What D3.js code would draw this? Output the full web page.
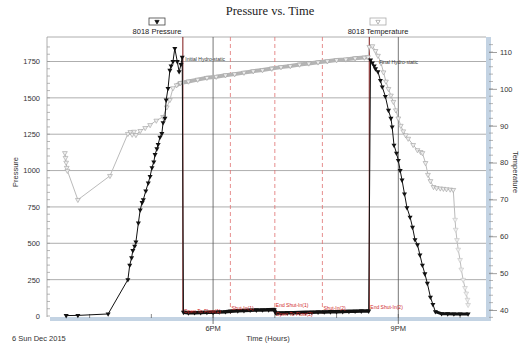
<!DOCTYPE html>
<html>
<head>
<meta charset="utf-8">
<script src="https://cdn.jsdelivr.net/npm/d3@7"></script>
<style>
  body { margin: 0; background: #fff; }
  svg { display: block; font-family: "Liberation Sans", Arial, sans-serif; }
</style>
</head>
<body>
<div id="chart"></div>
<script>
// ---- data (time in hours of the day, 6 Dec 2015) ----
const pressureTime = [15.62, 15.81, 16.30, 16.62, 16.65, 16.68, 16.70, 16.73, 16.75, 16.79, 16.82, 16.85, 16.87,
  16.91, 16.95, 16.98, 17.01, 17.04, 17.06, 17.09, 17.11, 17.14, 17.17, 17.19, 17.22, 17.24, 17.27, 17.30,
  17.32, 17.35, 17.38, 17.42, 17.45, 17.48, 17.50, 17.52,
  17.60, 17.70, 17.80, 17.90, 18.00, 18.10, 18.20, 18.28, 18.40, 18.50, 18.60, 18.70, 18.80, 18.90, 18.99,
  19.02, 19.10, 19.20, 19.30, 19.40, 19.50, 19.60, 19.70, 19.80, 19.90, 20.00, 20.10, 20.20, 20.30, 20.40, 20.52,
  20.55, 20.58, 20.61, 20.63, 20.67, 20.71, 20.74, 20.79, 20.84, 20.88, 20.90, 20.93, 20.97, 21.00, 21.03,
  21.06, 21.10, 21.14, 21.19, 21.23, 21.27, 21.31, 21.35, 21.39, 21.43, 21.47, 21.52, 21.56, 21.60,
  21.70, 21.80, 21.90, 22.00, 22.13];
const pressureValue = [3, 4, 14, 250, 350, 400, 450, 480, 510, 640, 730, 780, 800,
  860, 915, 960, 1020, 1060, 1110, 1150, 1180, 1230, 1255, 1330, 1360, 1485, 1565, 1690,
  1720, 1750, 1840, 1750, 1680, 1730, 1780, 26,
  22, 23, 24, 25, 26, 28, 30, 33, 36, 38, 40, 41, 42, 43, 44,
  20, 21, 22, 23, 24, 25, 26, 27, 28, 29, 30, 31, 32, 33, 34, 34,
  1760, 1740, 1720, 1700, 1680, 1620, 1575, 1510, 1415, 1360, 1300, 1175, 1120, 1070, 1000,
  935, 840, 745, 680, 610, 525, 490, 420, 350, 290, 225, 130, 80, 30,
  16, 15, 14, 14, 14];

const temperatureTime = [15.60, 15.61, 15.62, 15.63, 15.64, 15.81, 16.33, 16.62, 16.66, 16.69, 16.72, 16.75, 16.82,
  16.90, 16.98, 17.08, 17.19, 17.25, 17.30, 17.35, 17.41, 17.47,
  17.60, 17.75, 17.90, 18.05, 18.20, 18.35, 18.50, 18.65, 18.80, 18.95, 19.10, 19.25, 19.40, 19.55, 19.70,
  19.85, 20.00, 20.15, 20.30, 20.45, 20.51,
  20.53, 20.58, 20.63, 20.67, 20.72, 20.76, 20.80, 20.84, 20.88, 20.92, 20.96, 21.00, 21.04, 21.08, 21.12,
  21.16, 21.24, 21.31, 21.36, 21.39, 21.44, 21.48, 21.52, 21.57, 21.62, 21.68, 21.73, 21.78, 21.84, 21.89,
  21.92, 21.93, 21.95, 21.97, 22.00, 22.02, 22.05, 22.08, 22.10, 22.12, 22.13];
const temperatureValue = [82.6, 81.3, 80.0, 78.6, 77.8, 69.9, 76.4, 87.8, 88.3, 87.6, 88.4, 87.5, 88.6,
  89.4, 90.2, 91.4, 92.4, 95.0, 97.0, 100.2, 101.0, 101.6,
  102.0, 102.5, 103.0, 103.3, 103.7, 104.0, 104.4, 104.8, 105.1, 105.5, 105.9, 106.2, 106.6, 106.9, 107.2,
  107.5, 107.8, 108.0, 108.3, 108.5, 108.6,
  111.4, 111.6, 110.3, 109.0, 107.0, 104.5, 102.0, 100.0, 98.2, 96.5, 94.2, 92.0, 90.0, 88.5, 87.4,
  86.5, 84.8, 83.4, 82.9, 82.6, 79.9, 76.7, 75.0, 73.4, 73.1, 73.0, 72.9, 72.8, 72.7, 72.6,
  64.5, 61.8, 59.0, 56.4, 53.6, 51.0, 48.2, 46.0, 44.5, 42.8, 41.4];

const eventTimes  = [17.51, 18.28, 19.00, 19.77, 20.53];
const eventSolid  = [true, false, false, false, true];
const eventLabels = ["Open To Flow(1)", "Shut-In(1)", "End Shut-In(1)", "Shut-In(2)", "End Shut-In(2)"];
const eventLabelP = [24, 44, 64, 42, 50];

const pressureTicks = [0, 250, 500, 750, 1000, 1250, 1500, 1750];
const temperatureTicks = [40, 50, 60, 70, 80, 90, 100, 110];
const timeTicks = [18, 21];
const timeTickLabels = ["6PM", "9PM"];

// ---- layout ----
const W = 523, H = 350;
const plotLeft = 47, plotRight = 486, plotTop = 37, plotBottom = 316;

const svg = d3.select("#chart").append("svg")
  .attr("width", W).attr("height", H);

const x = d3.scaleLinear().domain([15.31, 22.42]).range([plotLeft, plotRight]);
const yP = d3.scaleLinear().domain([0, 1750]).range([plotBottom, 61.5]);
const yT = d3.scaleLinear().domain([40, 110]).range([310, 52]);

// title
svg.append("text")
  .attr("x", 270).attr("y", 15)
  .attr("text-anchor", "middle")
  .style("font-family", "'Liberation Serif', 'Times New Roman', serif")
  .style("font-size", "12.5px")
  .attr("fill", "#222")
  .text("Pressure vs. Time");

// legend headers
function legendHead(cx, label, filled) {
  svg.append("rect")
    .attr("x", cx - 8).attr("y", 18).attr("width", 16).attr("height", 7)
    .attr("fill", "none").attr("stroke", filled ? "#444" : "#aaa").attr("stroke-width", 0.8);
  svg.append("path")
    .attr("d", d3.symbol(d3.symbolTriangle, 8)())
    .attr("transform", `translate(${cx},21.6) rotate(180)`)
    .attr("fill", filled ? "#111" : "#fff")
    .attr("stroke", filled ? "#111" : "#999").attr("stroke-width", 0.7);
  svg.append("text")
    .attr("x", cx).attr("y", 33.5)
    .attr("text-anchor", "middle")
    .style("font-size", "7.5px").attr("fill", "#222")
    .text(label);
}
legendHead(157, "8018 Pressure", true);
legendHead(378, "8018 Temperature", false);

// plot frame
svg.append("line").attr("x1", plotLeft).attr("x2", plotRight).attr("y1", plotTop).attr("y2", plotTop)
  .attr("stroke", "#999").attr("stroke-width", 0.8);
svg.append("line").attr("x1", plotLeft).attr("x2", plotLeft).attr("y1", plotTop).attr("y2", plotBottom + 1)
  .attr("stroke", "#999").attr("stroke-width", 0.8);

// bottom and right bands
svg.append("rect").attr("x", 50).attr("y", plotBottom + 1).attr("width", plotRight + 5 - 50).attr("height", 4)
  .attr("fill", "#c3d3e3");
svg.append("rect").attr("x", plotRight).attr("y", plotTop).attr("width", 5).attr("height", plotBottom + 5 - plotTop)
  .attr("fill", "#c3d3e3");

// horizontal grid
svg.append("g").selectAll("line").data(pressureTicks.filter(d => d > 0)).join("line")
  .attr("x1", plotLeft).attr("x2", plotRight)
  .attr("y1", d => yP(d)).attr("y2", d => yP(d))
  .attr("stroke", "#999").attr("stroke-width", 0.8);

// left axis
const leftAxis = svg.append("g")
  .attr("transform", `translate(${plotLeft},0)`)
  .call(d3.axisLeft(yP).tickValues(pressureTicks).tickFormat(d3.format("d")).tickSize(0).tickPadding(7));
leftAxis.select(".domain").remove();
leftAxis.selectAll("text").style("font-size", "7.5px").attr("fill", "#333")
  .style("font-family", "'Liberation Sans', Arial, sans-serif");
svg.append("g").selectAll("line").data(d3.range(0, 1900, 50)).join("line")
  .attr("x1", plotLeft).attr("x2", plotLeft + 3)
  .attr("y1", d => yP(d)).attr("y2", d => yP(d))
  .attr("stroke", "#999").attr("stroke-width", 0.7);

// right axis
const rightAxis = svg.append("g")
  .attr("transform", `translate(${plotRight + 3},0)`)
  .call(d3.axisRight(yT).tickValues(temperatureTicks).tickSize(8).tickPadding(3));
rightAxis.select(".domain").remove();
rightAxis.selectAll("line").attr("stroke", "#777").attr("stroke-width", 0.7);
rightAxis.selectAll("text").style("font-size", "7.5px").attr("fill", "#333")
  .style("font-family", "'Liberation Sans', Arial, sans-serif");
svg.append("g").selectAll("line").data(d3.range(38, 114, 2)).join("line")
  .attr("x1", plotRight + 3).attr("x2", plotRight + 7)
  .attr("y1", d => yT(d)).attr("y2", d => yT(d))
  .attr("stroke", "#888").attr("stroke-width", 0.6);

// vertical time grid + hourly ticks
svg.append("g").selectAll("line").data(timeTicks).join("line")
  .attr("x1", d => x(d)).attr("x2", d => x(d))
  .attr("y1", plotTop).attr("y2", plotBottom + 8)
  .attr("stroke", "#555").attr("stroke-width", 0.8);
svg.append("g").selectAll("line").data(d3.range(16, 23)).join("line")
  .attr("x1", d => x(d)).attr("x2", d => x(d))
  .attr("y1", plotBottom - 2).attr("y2", plotBottom + 2)
  .attr("stroke", "#555").attr("stroke-width", 0.7);
svg.append("g").selectAll("text").data(timeTicks).join("text")
  .attr("x", d => x(d)).attr("y", plotBottom + 15)
  .attr("text-anchor", "middle")
  .style("font-size", "7.5px").attr("fill", "#333")
  .text((d, i) => timeTickLabels[i]);

// axis titles
svg.append("text").attr("x", 268).attr("y", 341).attr("text-anchor", "middle")
  .style("font-size", "7.5px").attr("fill", "#333").text("Time (Hours)");
svg.append("text").attr("x", 12).attr("y", 341)
  .style("font-size", "7.5px").attr("fill", "#333").text("6 Sun Dec 2015");
svg.append("text")
  .attr("transform", `translate(18,172) rotate(-90)`).attr("text-anchor", "middle")
  .style("font-size", "7.5px").attr("fill", "#333").text("Pressure");
svg.append("text")
  .attr("transform", `translate(513,172) rotate(90)`).attr("text-anchor", "middle")
  .style("font-size", "7.5px").attr("fill", "#333").text("Temperature");

// event markers
svg.append("g").selectAll("line").data(eventTimes).join("line")
  .attr("x1", d => x(d)).attr("x2", d => x(d))
  .attr("y1", plotTop).attr("y2", (d, i) => eventSolid[i] ? plotBottom - 4 : plotBottom)
  .attr("stroke", (d, i) => eventSolid[i] ? "#8a2a2a" : "#e07070")
  .attr("stroke-width", (d, i) => eventSolid[i] ? 1.1 : 0.8)
  .attr("stroke-dasharray", (d, i) => eventSolid[i] ? null : "4,3");

// temperature series
const tempData = temperatureTime.map((t, i) => [t, temperatureValue[i]]);
svg.append("path").datum(tempData)
  .attr("d", d3.line().x(d => x(d[0])).y(d => yT(d[1])))
  .attr("fill", "none").attr("stroke", "#bbb").attr("stroke-width", 1);
svg.append("path").datum(tempData.filter(d => d[0] >= 17.4 && d[0] <= 20.52))
  .attr("d", d3.line().x(d => x(d[0])).y(d => yT(d[1])))
  .attr("fill", "none").attr("stroke", "#b4b4b4").attr("stroke-width", 4);
svg.append("g").selectAll("path").data(tempData).join("path")
  .attr("d", d3.symbol(d3.symbolTriangle, 10)())
  .attr("transform", d => `translate(${x(d[0])},${yT(d[1])}) rotate(180)`)
  .attr("fill", "#eee").attr("stroke", d => d[0] > 21.9 ? "#c4c4c4" : "#a0a0a0")
  .attr("stroke-width", 0.6);

// pressure series
const presData = pressureTime.map((t, i) => [t, pressureValue[i]]);
svg.append("path").datum(presData)
  .attr("d", d3.line().x(d => x(d[0])).y(d => yP(d[1])))
  .attr("fill", "none").attr("stroke", "#111").attr("stroke-width", 1);
svg.append("path").datum(presData.filter(d => d[0] >= 17.52 && d[0] <= 20.52))
  .attr("d", d3.line().x(d => x(d[0])).y(d => yP(d[1])))
  .attr("fill", "none").attr("stroke", "#111").attr("stroke-width", 3.5);
svg.append("path").datum(presData.filter(d => d[0] >= 21.6))
  .attr("d", d3.line().x(d => x(d[0])).y(d => yP(d[1])))
  .attr("fill", "none").attr("stroke", "#111").attr("stroke-width", 3);
svg.append("g").selectAll("path").data(presData).join("path")
  .attr("d", d3.symbol(d3.symbolTriangle, 11)())
  .attr("transform", d => `translate(${x(d[0])},${yP(d[1])}) rotate(180)`)
  .attr("fill", "#111");

// event labels
svg.append("g").selectAll("text").data(eventTimes).join("text")
  .attr("x", d => x(d) + 1).attr("y", (d, i) => yP(eventLabelP[i]))
  .style("font-size", "5px").attr("fill", "#d02a2a")
  .text((d, i) => eventLabels[i]);
svg.append("text").attr("x", x(19.0) + 1).attr("y", 316)
  .style("font-size", "5px").attr("fill", "#d02a2a").text("Open To Flow(2)");

// hydrostatic labels
svg.append("text").attr("x", x(17.55)).attr("y", yP(1752))
  .style("font-size", "5px").attr("fill", "#333").text("Initial Hydro-static");
svg.append("text").attr("x", x(20.69)).attr("y", yP(1735))
  .style("font-size", "5px").attr("fill", "#333").text("Final Hydro-static");
</script>
</body>
</html>
